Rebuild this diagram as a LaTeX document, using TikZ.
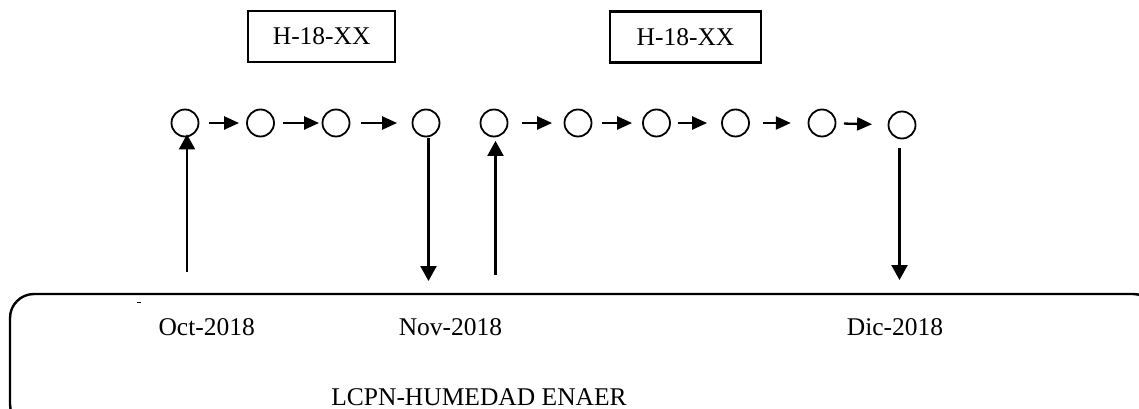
\documentclass[tikz,border=0pt]{standalone}
\usepackage{fontspec}
\setmainfont{Liberation Serif}
\usetikzlibrary{arrows.meta}
\tikzset{
  circ/.style={circle,draw,line width=1.8pt,minimum size=27pt,inner sep=0pt},
  labelbox/.style={draw,line width=2.4pt,minimum width=147pt,minimum height=51pt,inner sep=0pt},
  txt/.style={inner sep=0pt,anchor=base},
  harrow/.style={line width=2.3pt,-{Triangle[length=15pt,width=13pt]}},
  varrow/.style={line width=2.2pt,-{Triangle[length=15pt,width=16pt]}},
  frame/.style={line width=2.4pt,rounded corners=24pt}
}
\begin{document}
\begin{tikzpicture}[x=1pt,y=-1pt,font=\fontsize{25.5}{30}\selectfont]
\useasboundingbox (0,0) rectangle (1139,409);
\clip (0,0) rectangle (1139,409);
% top boxes
\node[labelbox] (h1) at (321.7,36.5) {H-18-XX};
\node[labelbox,minimum width=151pt] (h2) at (685.5,37) {H-18-XX};
% circles
\node[circ] (c1) at (185,123) {};
\node[circ] (c2) at (260.5,123) {};
\node[circ] (c3) at (336,123) {};
\node[circ] (c4) at (426,123) {};
\node[circ] (c5) at (494,123) {};
\node[circ] (c6) at (578,123) {};
\node[circ] (c7) at (656.5,123) {};
\node[circ] (c8) at (735.5,123) {};
\node[circ] (c9) at (822,123) {};
\node[circ] (c10) at (902,125) {};
% horizontal arrows
\draw[harrow,shorten <=9.5pt,shorten >=7pt] (c1) -- (c2);
\draw[harrow,shorten <=8pt,shorten >=2.5pt] (c2) -- (c3);
\draw[harrow,shorten <=10.5pt,shorten >=14.5pt] (c3) -- (c4);
\draw[harrow,shorten <=14pt,shorten >=11.5pt] (c5) -- (c6);
\draw[harrow,shorten <=10pt,shorten >=10pt] (c6) -- (c7);
\draw[harrow,shorten <=6.7pt,shorten >=14pt] (c7) -- (c8);
\draw[harrow,shorten <=12.7pt,shorten >=16.8pt] (c8) -- (c9);
\draw[harrow,shorten <=7.5pt,shorten >=15.5pt] (c9) -- (c10);
% frame
\draw[frame] (10,294) rectangle (1157,428);
\draw[line width=1pt] (137,302.7) -- (141,302.7);
% vertical connectors
\coordinate (t1) at (187,272);
\coordinate (b1) at (428.5,281);
\coordinate (t2) at (495.5,275);
\coordinate (b2) at (899.5,280);
\draw[varrow,shorten >=-3pt] (t1) -- (t1 |- c1.south);
\draw[varrow,shorten <=1pt] (b1 |- c4.south) -- (b1);
\draw[varrow,shorten >=3.5pt] (t2) -- (t2 |- c5.south);
\draw[varrow,shorten <=9pt] (b2 |- c10.south) -- (b2);
% labels
\node[txt] (oct) at (206.7,335.7) {Oct-2018};
\node[txt] (nov) at (450.5,335.7) {Nov-2018};
\node[txt] (dic) at (895,335.7) {Dic-2018};
\node[txt] (lcpn) at (479,405) {LCPN-HUMEDAD ENAER};
\end{tikzpicture}
\end{document}
